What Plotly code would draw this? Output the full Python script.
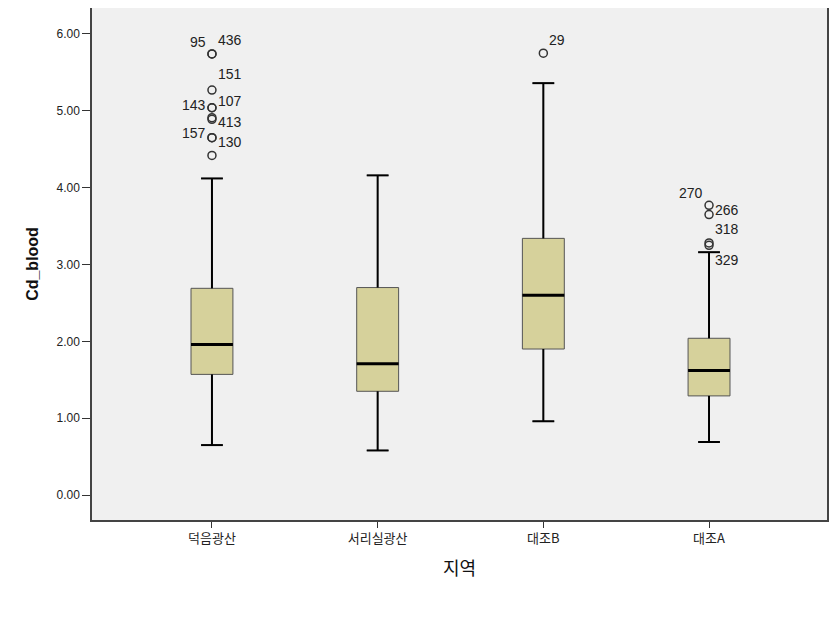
import plotly.graph_objects as go

categories = ["덕음광산", "서리실광산", "대조B", "대조A"]
lower_whisker = [0.65, 0.58, 0.96, 0.69]
q1 = [1.57, 1.35, 1.90, 1.29]
median = [1.96, 1.71, 2.60, 1.62]
q3 = [2.69, 2.70, 3.34, 2.04]
upper_whisker = [4.12, 4.16, 5.36, 3.16]

# outliers: group index, value, case label ('' = unlabeled)
out_group = [0, 0, 0, 0, 0, 0, 0, 0, 0, 0, 2, 3, 3, 3, 3]
out_value = [5.74, 5.74, 5.27, 5.04, 5.04, 4.91, 4.89, 4.65, 4.65, 4.42, 5.75, 3.77, 3.65, 3.28, 3.25]
out_label = ["95", "436", "151", "143", "107", "413", "", "157", "130", "", "29", "270", "266", "318", "329"]
# label placement (style): side and vertical pixel shift
out_side = ["l", "r", "r", "l", "r", "r", "r", "l", "r", "r", "r", "l", "r", "r", "r"]
out_dy = [12, 14, 16, 3, 7, -4, 0, 5, -4, 0, 13, 12, 5, 14, -15]

xpos = list(range(len(categories)))
box_w = 0.253
cap_frac = 0.52

fig = go.Figure()
fig.add_trace(go.Box(
    x=xpos, q1=q1, median=median, q3=q3,
    lowerfence=lower_whisker, upperfence=upper_whisker,
    width=box_w, whiskerwidth=cap_frac,
    fillcolor="#d6d19b", line=dict(color="#555555", width=1),
    boxpoints=False, showlegend=False, hoverinfo="skip",
))

# thick median and whiskers overlay
mx, my, wx, wy = [], [], [], []
for i in xpos:
    mx += [i - box_w / 2, i + box_w / 2, None]
    my += [median[i], median[i], None]
    c = box_w * cap_frac / 2
    wx += [i, i, None, i - c, i + c, None, i, i, None, i - c, i + c, None]
    wy += [q3[i], upper_whisker[i], None, upper_whisker[i], upper_whisker[i], None,
           q1[i], lower_whisker[i], None, lower_whisker[i], lower_whisker[i], None]
fig.add_trace(go.Scatter(x=wx, y=wy, mode="lines", line=dict(color="#000000", width=2),
                         showlegend=False, hoverinfo="skip"))
fig.add_trace(go.Scatter(x=mx, y=my, mode="lines", line=dict(color="#000000", width=3),
                         showlegend=False, hoverinfo="skip"))

fig.add_trace(go.Scatter(
    x=[xpos[g] for g in out_group], y=out_value, mode="markers",
    marker=dict(symbol="circle-open", size=8, color="#333333", line=dict(width=1.5)),
    showlegend=False, hoverinfo="skip",
))

for g, v, lab, side, dy in zip(out_group, out_value, out_label, out_side, out_dy):
    if not lab:
        continue
    fig.add_annotation(
        x=xpos[g], y=v, text=lab, showarrow=False,
        xanchor="right" if side == "l" else "left",
        xshift=-4 if side == "l" else 4, yshift=dy,
        font=dict(family="Liberation Sans, Arial", size=14, color="#222222"),
    )

fig.update_layout(
    width=837, height=625,
    margin=dict(l=84, r=18, t=0, b=113),
    paper_bgcolor="white", plot_bgcolor="#f0f0f0",
    xaxis=dict(
        range=[-0.724, 3.712], tickvals=xpos, ticktext=categories,
        showgrid=False, zeroline=False, showline=True, mirror=True, automargin=False,
        linecolor="#444444", linewidth=1.5, ticks="outside", ticklen=6,
        tickcolor="#333333",
        tickfont=dict(family="Noto Sans CJK KR", size=13, color="#222222"),
        title=dict(text="지역", font=dict(family="Noto Sans CJK KR", size=18, color="#111111"),
                   standoff=16),
    ),
    yaxis=dict(
        range=[-0.325, 6.338], tickvals=[0, 1, 2, 3, 4, 5, 6], tickformat=".2f",
        showgrid=False, zeroline=False, showline=True, mirror=True, automargin=False,
        linecolor="#444444", linewidth=1.5, ticks="outside", ticklen=8,
        tickcolor="#333333",
        tickfont=dict(family="Liberation Sans, Arial", size=12, color="#222222"),
        title=dict(text="<b>Cd_blood</b>", font=dict(family="Liberation Sans, Arial", size=16, color="#111111"),
                   standoff=14),
    ),
)

fig.write_html("out.html")
